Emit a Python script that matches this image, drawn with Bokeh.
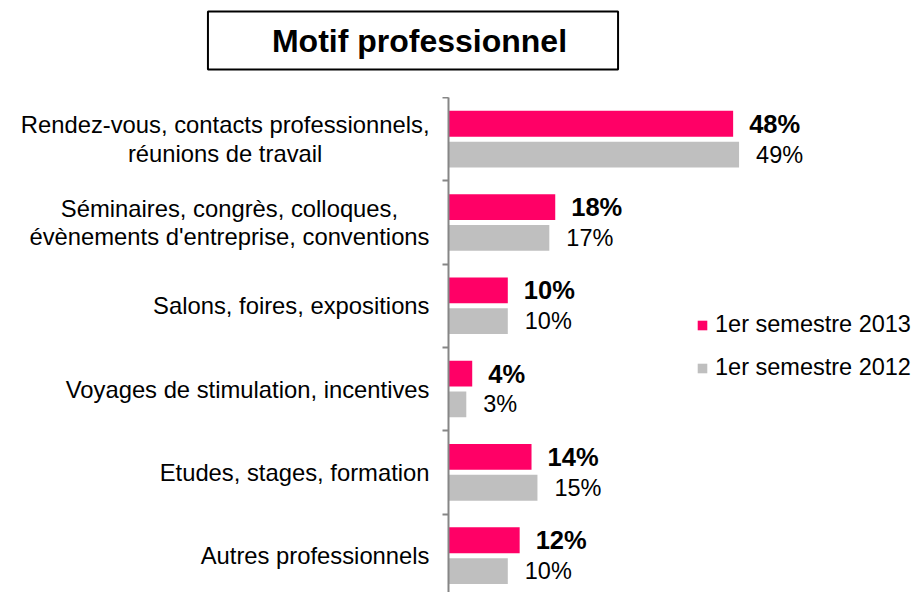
from bokeh.plotting import figure
from bokeh.layouts import column, row
from bokeh.models import (ColumnDataSource, FixedTicker, Legend, LegendItem, Label, Range1d)
from bokeh.transform import dodge
from bokeh.core.properties import value
from bokeh.embed import file_html
from bokeh.resources import INLINE

title_text = "Motif professionnel"
categories = [
    "Rendez-vous, contacts professionnels,\nréunions de travail",
    "Séminaires, congrès, colloques,\névènements d'entreprise, conventions",
    "Salons, foires, expositions",
    "Voyages de stimulation, incentives",
    "Etudes, stages, formation",
    "Autres professionnels",
]
series_names = ["1er semestre 2013", "1er semestre 2012"]
values_2013 = [48, 18, 10, 4, 14, 12]
values_2012 = [49, 17, 10, 3, 15, 10]

FONT = "Liberation Sans"
PINK = "#FF0066"
GREY = "#BFBFBF"
AXIS = "#868686"

n = len(categories)
pos = [n - 1 - i for i in range(n)]
src = ColumnDataSource(dict(
    pos=pos,
    cat=categories,
    v13=values_2013,
    v12=values_2012,
    l13=[f"{v}%" for v in values_2013],
    l12=[f"{v}%" for v in values_2012],
))

TOTAL_W = 917
TITLE_H = 97
BODY_H = 592 - TITLE_H
LABEL_W = 442
AXIS_W = 6
MAIN_W = TOTAL_W - LABEL_W
cat_px = 83.3
px_per_pct = 5.93

# ---- title strip ----
tf = figure(width=TOTAL_W, height=TITLE_H, output_backend="svg", toolbar_location=None,
            x_range=Range1d(0, TOTAL_W), y_range=Range1d(0, TITLE_H),
            x_axis_location=None, y_axis_location=None, min_border=0)
tf.outline_line_color = None
tf.xgrid.visible = False
tf.ygrid.visible = False
tf.add_layout(Label(x=412.5, y=TITLE_H - 40, text=title_text,
                    text_align="center", text_baseline="middle", text_font=FONT,
                    text_font_style="bold", text_font_size="32px", text_color="black",
                    border_line_color="black", border_line_width=2,
                    background_fill_color="white",
                    padding=dict(left=64, right=51, top=11, bottom=11)))

# ---- shared category range ----
y_range = Range1d(n - 0.5 - BODY_H / cat_px, n - 0.5)

# ---- category labels ----
lf = figure(width=LABEL_W, height=BODY_H, output_backend="svg", toolbar_location=None,
            x_range=Range1d(0, LABEL_W), y_range=y_range,
            x_axis_location=None, y_axis_location=None, min_border=0)
lf.outline_line_color = None
lf.xgrid.visible = False
lf.ygrid.visible = False
lf.text(x=LABEL_W - 13, y="pos", text="cat", source=src,
        anchor=value("center_right"), text_align="center", text_baseline="middle",
        text_font=value(FONT), text_font_size="23.8px", text_color="black",
        text_line_height=1.06)

# ---- bars ----
p = figure(width=MAIN_W, height=BODY_H, output_backend="svg", toolbar_location=None,
           x_range=Range1d(0, (MAIN_W - AXIS_W) / px_per_pct), y_range=y_range,
           x_axis_location=None, min_border_left=AXIS_W, min_border_top=0,
           min_border_right=0, min_border_bottom=0)
p.outline_line_color = None
p.xgrid.visible = False
p.ygrid.visible = False

off = 0.185
bh = 0.31
r13 = p.hbar(y=dodge("pos", off), right="v13", left=0, height=bh, source=src,
             fill_color=PINK, line_color=None)
r12 = p.hbar(y=dodge("pos", -off), right="v12", left=0, height=bh, source=src,
             fill_color=GREY, line_color=None)

p.text(x="v13", y=dodge("pos", off), text="l13", source=src, x_offset=16,
       text_baseline="middle", text_align="left", text_font=value(FONT),
       text_font_style="bold", text_font_size="25.5px", text_color="black")
p.text(x="v12", y=dodge("pos", -off), text="l12", source=src, x_offset=17,
       text_baseline="middle", text_align="left", text_font=value(FONT),
       text_font_size="23.5px", text_color="black")

ax = p.yaxis[0]
ax.ticker = FixedTicker(ticks=[], minor_ticks=[k - 0.5 for k in range(n + 1)])
ax.axis_line_color = AXIS
ax.axis_line_width = 2
ax.major_tick_out = 0
ax.major_tick_in = 0
ax.minor_tick_out = 6
ax.minor_tick_in = 0
ax.minor_tick_line_color = AXIS
ax.minor_tick_line_width = 2
ax.major_label_standoff = 0

legend = Legend(items=[LegendItem(label=series_names[0], renderers=[r13]),
                       LegendItem(label=series_names[1], renderers=[r12])],
                location=(248, 211), orientation="vertical",
                glyph_width=12, glyph_height=12, label_standoff=7, spacing=16,
                padding=0, margin=0, border_line_color=None, background_fill_alpha=0,
                label_text_font=FONT, label_text_font_size="23.5px", label_text_color="black")
p.add_layout(legend)

layout = column(tf, row(lf, p, spacing=0), spacing=0)

open("out.html", "w").write(file_html(layout, INLINE))
